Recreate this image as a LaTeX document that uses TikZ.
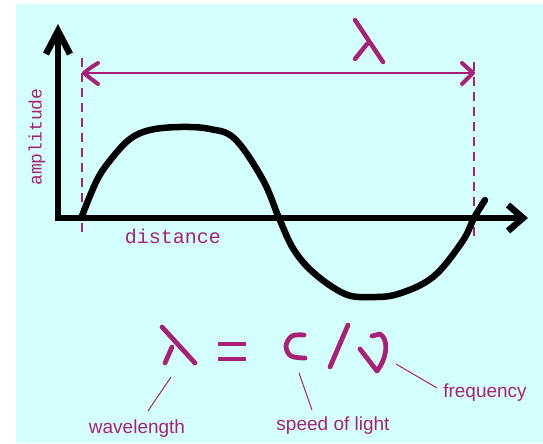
\documentclass[tikz,border=0pt]{standalone}
\usepackage{fontspec}
\newfontfamily\lblfont{Liberation Sans}
\newfontfamily\monofont{Liberation Mono}
\definecolor{mag}{RGB}{168,32,120}
\definecolor{bgc}{RGB}{212,255,255}
\begin{document}
\begin{tikzpicture}[x=1pt,y=-1pt,
  axis/.style={line width=6.5pt, black, line join=miter, miter limit=4},
  wave/.style={line width=6.5pt, black, line cap=round, line join=round},
  dimline/.style={line width=1.4pt, mag},
  dashline/.style={line width=1.4pt, mag, dash pattern=on 9pt off 6pt},
  hand/.style={line width=4.8pt, mag, line cap=round, line join=round},
  leader/.style={line width=1pt, mag},
  monolbl/.style={text=mag, inner sep=0pt, font=\monofont\fontsize{19}{19}\selectfont},
  sanslbl/.style={text=mag, inner sep=0pt, anchor=base, font=\lblfont\fontsize{19}{19}\selectfont}]
\useasboundingbox (0,0) rectangle (543,444);
\fill[white] (0,0) rectangle (543,444);
\fill[bgc] (16,4) rectangle (543,443);
% dashed verticals and wavelength dimension
\coordinate (dL1) at (82,58); \coordinate (dL2) at (82,233);
\coordinate (dR1) at (474,62); \coordinate (dR2) at (474,238);
\draw[dashline] (dL1) -- (dL2);
\draw[dashline] (dR1) -- (dR2);
\coordinate (aL) at (84,73); \coordinate (aR) at (473,73);
\draw[dimline] (aL) -- (aR);
\draw[hand, line width=4pt] (98,63) .. controls (90,68) .. (aL) .. controls (90,78) .. (98,84);
\draw[hand, line width=4pt] (462,63) .. controls (468,68) .. (aR) .. controls (468,78) .. (462,84);
% top lambda
\draw[hand, line width=4.5pt] (355,20) -- (383,62);
\draw[hand, line width=4.5pt] (367,44) -- (355,59);
% axes
\coordinate (yTip) at (58,31); \coordinate (org) at (58,218); \coordinate (xTip) at (523,218);
\draw[axis] (58,34) -- (org) -- (520,218);
\draw[axis] (46,54) -- (yTip) -- (70,54);
\draw[axis] (508,205) -- (xTip) -- (508,231);
% wave
\draw[wave] plot[smooth, tension=0.6] coordinates {(82,216) (97,180) (112,158) (130,139) (150,130) (180,127) (210,129) (235,139) (263,180) (279,218) (294,250) (315,274) (345,294) (370,297) (398,294) (433,277) (462,242) (474,218) (485,200)};
% axis labels
\node[monolbl, font=\monofont\fontsize{18}{18}\selectfont, rotate=90] (amp) at (37,137) {amplitude};
\node[monolbl, font=\monofont\fontsize{20}{20}\selectfont, anchor=base] (dist) at (173,243) {distance};
% equation
\draw[hand] (162,327) -- (195,363);
\draw[hand] (172,347) -- (165,363);
\draw[hand, line cap=butt] (218,344) -- (246,344);
\draw[hand, line cap=butt] (218,359) -- (246,359);
\draw[hand] plot[smooth, tension=0.6] coordinates {(304,335) (292,336) (286,346) (291,356) (305,358)};
\draw[hand] (348,325) -- (330,367);
\draw[hand] (360,349) -- (377,371) .. controls (386,360) and (390,340) .. (380,334) -- (372,336);
% labels and leaders
\node[sanslbl] (wl) at (137,433) {wavelength};
\node[sanslbl] (sol) at (333,430) {speed of light};
\node[sanslbl] (fq) at (485,397) {frequency};
\coordinate (wlA) at (171,377); \coordinate (wlB) at (148,411);
\coordinate (solA) at (299,373); \coordinate (solB) at (312,410);
\coordinate (fqA) at (396,364); \coordinate (fqB) at (437,388);
\draw[leader] (wlA) -- (wlB);
\draw[leader] (solA) -- (solB);
\draw[leader] (fqA) -- (fqB);
\end{tikzpicture}
\end{document}
